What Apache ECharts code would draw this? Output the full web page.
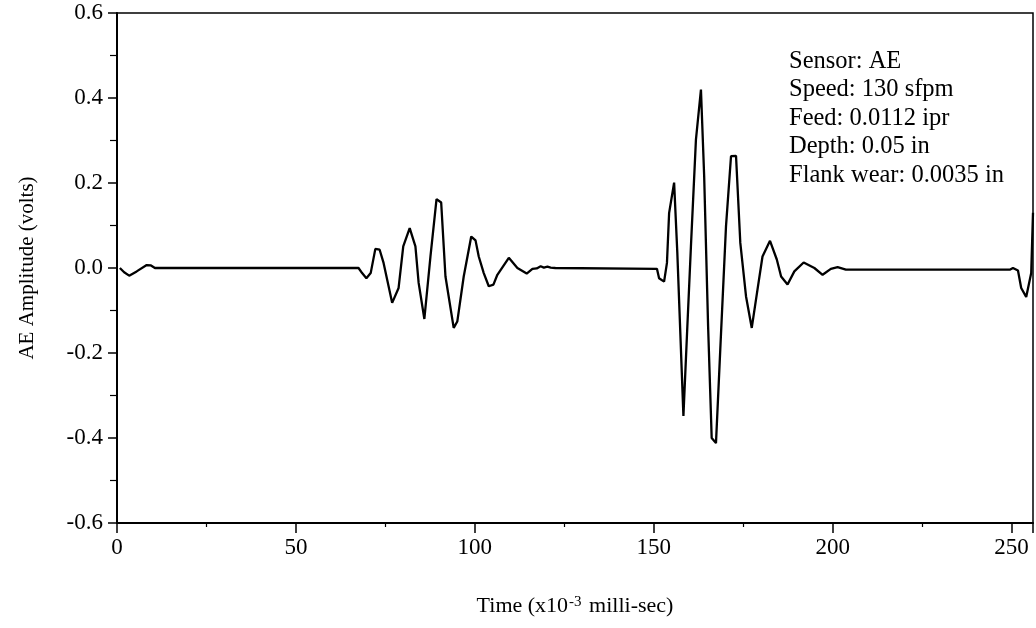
<!DOCTYPE html>
<html>
<head>
<meta charset="utf-8">
<script src="https://cdn.jsdelivr.net/npm/echarts@6/dist/echarts.min.js"></script>
<style>
html,body{margin:0;padding:0;background:#fff;}
#chart{width:1036px;height:628px;}
</style>
</head>
<body>
<div id="chart"></div>
<script>
// Time (x10^-3 milli-sec)
const timeValues = [0.8, 2.0, 3.4, 5.5, 8.3, 9.5, 10.6, 67.5, 68.5, 69.7, 70.9, 72.2, 73.4, 74.5, 76.9, 78.7, 80.0, 81.8, 83.4, 84.3, 85.9, 87.6, 89.3, 90.6, 91.8, 94.1, 95.1, 96.9, 99.0, 100.2, 101.1, 102.5, 103.9, 105.2, 106.3, 109.5, 111.9, 114.5, 116.1, 117.3, 118.4, 119.3, 120.3, 121.2, 122.5, 150.9, 151.5, 152.9, 153.7, 154.3, 155.7, 156.6, 158.3, 159.4, 160.4, 161.8, 163.2, 164.1, 165.2, 166.2, 167.4, 168.6, 170.2, 171.6, 173.0, 174.2, 175.8, 177.4, 179.0, 180.4, 182.5, 184.4, 185.6, 187.4, 189.3, 191.9, 194.9, 197.2, 199.5, 201.4, 203.7, 249.5, 250.4, 251.8, 252.7, 254.1, 255.5, 256.0];
// AE Amplitude (volts)
const amplitudeValues = [0.000, -0.010, -0.018, -0.008, 0.007, 0.006, 0.000, 0.000, -0.012, -0.024, -0.012, 0.045, 0.043, 0.012, -0.082, -0.047, 0.051, 0.094, 0.051, -0.035, -0.120, 0.027, 0.162, 0.154, -0.020, -0.141, -0.126, -0.020, 0.074, 0.065, 0.027, -0.012, -0.043, -0.039, -0.016, 0.024, 0.000, -0.013, -0.002, -0.001, 0.004, 0.001, 0.003, 0.001, 0.000, -0.002, -0.024, -0.032, 0.012, 0.129, 0.201, 0.035, -0.348, -0.137, 0.051, 0.302, 0.420, 0.216, -0.137, -0.400, -0.412, -0.192, 0.098, 0.263, 0.264, 0.059, -0.067, -0.141, -0.051, 0.027, 0.064, 0.020, -0.020, -0.039, -0.008, 0.013, 0.000, -0.016, -0.002, 0.002, -0.004, -0.004, 0.000, -0.006, -0.047, -0.068, -0.012, 0.130];
const annotationLines = ['Sensor: AE', 'Speed: 130 sfpm', 'Feed: 0.0112 ipr', 'Depth: 0.05 in', 'Flank wear: 0.0035 in'];
const xAxisTitle = 'Time (x10{sup|-3} milli-sec)';
const yAxisTitle = 'AE Amplitude (volts)';

const FONT = '"Liberation Serif", "Times New Roman", serif';
const seriesData = timeValues.map((t, i) => [t, amplitudeValues[i]]);

const chart = echarts.init(document.getElementById('chart'), null, {renderer: 'canvas'});
chart.setOption({
  animation: false,
  backgroundColor: '#fff',
  grid: {left: 117, right: 3, top: 13, bottom: 105, show: true, borderColor: '#000', borderWidth: 1.5, backgroundColor: 'transparent'},
  xAxis: {
    type: 'value', min: 0, max: 256, interval: 50,
    name: xAxisTitle, nameLocation: 'middle', nameGap: 72,
    nameTextStyle: {fontFamily: FONT, fontSize: 22, color: '#000',
      rich: {sup: {fontFamily: FONT, fontSize: 15, color: '#000', verticalAlign: 'top', padding: [0, 2, 0, 1]}}},
    axisLine: {show: true, onZero: false, lineStyle: {color: '#000', width: 2}},
    axisTick: {show: true, length: 10, lineStyle: {color: '#000', width: 1.5}},
    minorTick: {show: true, splitNumber: 2, length: 4, lineStyle: {color: '#000', width: 1.2}},
    axisLabel: {fontFamily: FONT, fontSize: 23, color: '#000', margin: 13, showMaxLabel: false},
    splitLine: {show: false}
  },
  yAxis: {
    type: 'value', min: -0.6, max: 0.6, interval: 0.2,
    name: yAxisTitle, nameLocation: 'middle', nameGap: 79, nameRotate: 90,
    nameTextStyle: {fontFamily: FONT, fontSize: 21, color: '#000'},
    axisLine: {show: true, onZero: false, lineStyle: {color: '#000', width: 2}},
    axisTick: {show: true, length: 9, lineStyle: {color: '#000', width: 1.5}},
    minorTick: {show: true, splitNumber: 2, length: 7, lineStyle: {color: '#000', width: 1.2}},
    axisLabel: {fontFamily: FONT, fontSize: 23, color: '#000', margin: 14, formatter: v => v.toFixed(1)},
    splitLine: {show: false}
  },
  graphic: [{
    type: 'text', left: 789, top: 47,
    style: {text: annotationLines.join('\n'), font: '24.5px ' + FONT, fill: '#000', lineHeight: 28.5}
  }],
  series: [{
    type: 'line', data: seriesData, showSymbol: false, smooth: false,
    lineStyle: {color: '#000', width: 2.3}, clip: true
  }]
});
</script>
</body>
</html>
